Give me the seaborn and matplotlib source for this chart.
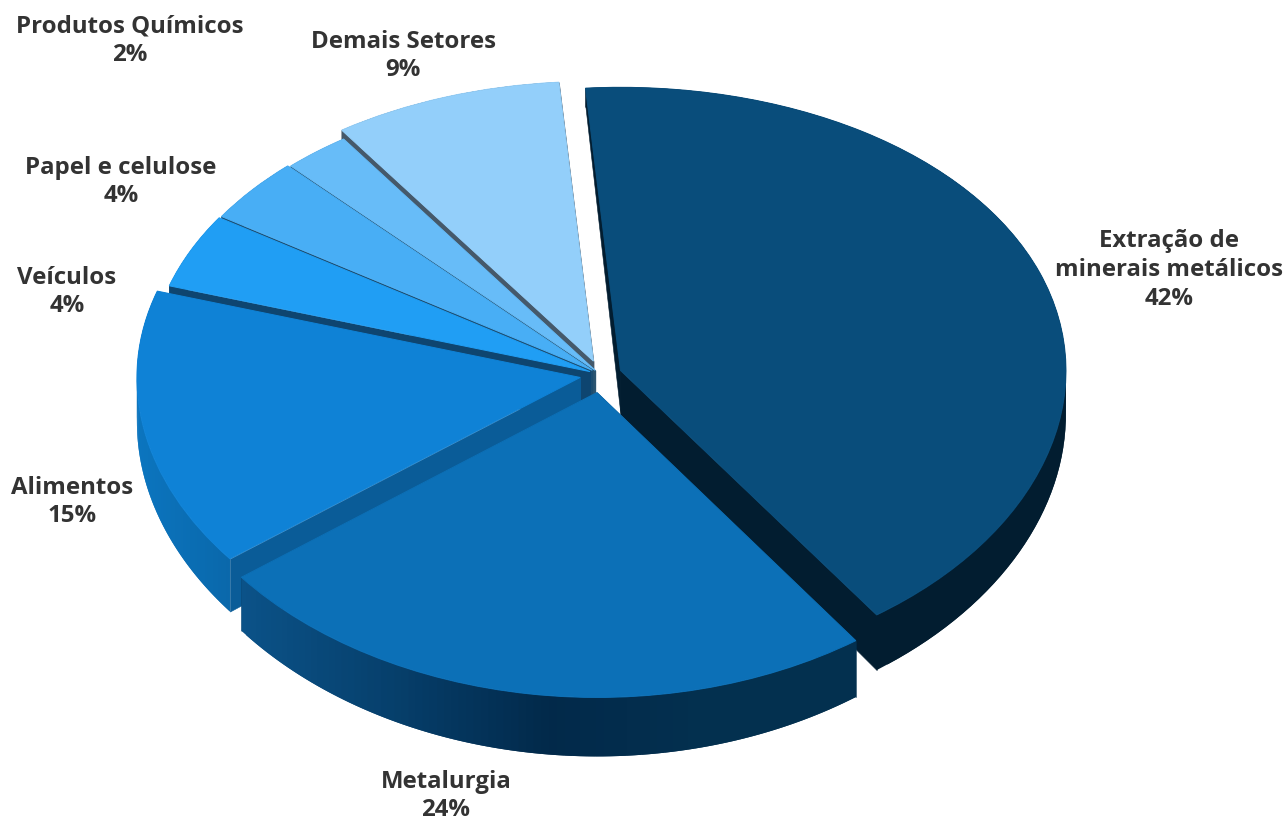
import numpy as np
import matplotlib
matplotlib.use("Agg")
import matplotlib.pyplot as plt
from matplotlib.collections import PolyCollection
from matplotlib.colors import LinearSegmentedColormap
import seaborn as sns

categories = ["Extração de\nminerais metálicos", "Metalurgia", "Alimentos", "Veículos",
              "Papel e celulose", "Produtos Químicos", "Demais Setores"]
shown_percent = [42, 24, 15, 4, 4, 2, 9]
shares = [41.9, 24.49, 15.49, 4.3, 3.8, 2.49, 8.5]
explode = [0.046, 0.06, 0.047, 0.027, 0.025, 0.02, 0.05]
radii = [0.99, 1.0, 0.985, 0.98, 0.98, 0.98, 0.98]

top_colors = ["#094D7B", "#0C70B7", "#0F82D6", "#209EF4", "#48AEF5", "#67BCF8", "#93CFFA"]
wall_colors = [["#021D30", "#021D30"],
               ["#0B5288", "#063F6B", "#02294A", "#03304F", "#03304F"],
               ["#0B75BF", "#0A68AB"],
               ["#0E4570", "#0E4570"],
               ["#1C4D70", "#1C4D70"],
               ["#2A5470", "#2A5470"],
               ["#45596A", "#45596A"]]
radial_colors = ["#021D30", "#03304F", "#0A5C98", "#0E4570", "#1C4D70", "#2A5470", "#45596A"]
paint_order = [6, 5, 4, 3, 2, 0, 1]
label_xy = [(1169, 270), (446, 796), (72, 502), (67, 292), (121, 182), (130, 41), (403, 56)]

W, H = 1286, 823
sns.set_theme(style="white")
plt.rcParams["font.family"] = ["Open Sans", "DejaVu Sans"]

fig = plt.figure(figsize=(W / 100, H / 100), dpi=100)
ax = fig.add_axes([0, 0, 1, 1])

cx, cy, ux, uy, k = 601, 375, 450.0, 295.0, 0.03

wedges, _ = ax.pie(shares, colors=sns.color_palette(top_colors), explode=explode,
                   startangle=94.5, counterclock=False, radius=0.98,
                   wedgeprops=dict(linewidth=0))


def forward(y):
    return np.asarray(y) - k * np.asarray(y) ** 2


def inverse(u):
    return (1 - np.sqrt(1 - 4 * k * np.asarray(u))) / (2 * k)


ax.set_aspect("auto")
ax.set_yscale("function", functions=(forward, inverse))
ax.set_xlim(-cx / ux, (W - cx) / ux)
ax.set_ylim(float(inverse((cy - H) / uy)), float(inverse(cy / uy)))
ax.axis("off")


def depth(y):
    return 0.15 - np.where(np.asarray(y) < 0, 0.035, 0.08) * np.asarray(y)


for rank, i in enumerate(paint_order):
    w = wedges[i]
    w.set_radius(radii[i])
    w.set_edgecolor(w.get_facecolor())
    w.set_linewidth(0.7)
    z = 2 + rank * 3
    x0, y0 = w.center
    th = np.radians(np.linspace(w.theta1, w.theta2, 90))
    xs = x0 + w.r * np.cos(th)
    ys = y0 + w.r * np.sin(th)
    low = ys - depth(ys)
    # radial walls
    for xe, ye in ((xs[0], ys[0]), (xs[-1], ys[-1])):
        quad = [(x0, y0), (xe, ye), (xe, ye - depth(ye)), (x0, y0 - depth(y0))]
        ax.add_collection(PolyCollection([quad], facecolors=radial_colors[i],
                                         edgecolors=radial_colors[i], linewidths=0.4, zorder=z))
    # outer wall: left-to-right gradient, each band overlapping the next to hide seams
    cmap = LinearSegmentedColormap.from_list("w", wall_colors[i])
    lo, hi = xs.min(), xs.max()
    quads, cols = [], []
    for a in range(len(th) - 1):
        b = min(a + 2, len(th) - 1)
        quads.append([(xs[a], ys[a]), (xs[b], ys[b]), (xs[b], low[b]), (xs[a], low[a])])
        cols.append(cmap((0.5 * (xs[a] + xs[a + 1]) - lo) / (hi - lo)))
    ax.add_collection(PolyCollection(quads, facecolors=cols, edgecolors="none",
                                     linewidths=0, zorder=z + 1))
    w.set_zorder(z + 2)

for cat, val, (px, py) in zip(categories, shown_percent, label_xy):
    fig.text(px / W, 1 - py / H, f"{cat}\n{val}%", ha="center", va="center",
             fontsize=17.3, fontweight="bold", color="#333333", linespacing=1.27)

fig.savefig("out.png", dpi=100, facecolor="white")
